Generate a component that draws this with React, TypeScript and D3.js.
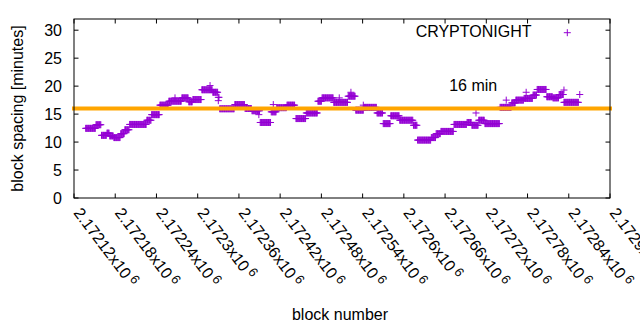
import React from "react";
import * as d3 from "d3";

// Flat runs of the moving block spacing (block range, value in minutes)
const runStart = [2172137, 2172152, 2172160, 2172168, 2172172, 2172178, 2172188, 2172194, 2172201, 2172226,
  2172233, 2172245, 2172258, 2172277, 2172287, 2172293, 2172306, 2172322, 2172330, 2172332,
  2172354, 2172369, 2172379, 2172391, 2172407, 2172415, 2172430, 2172443, 2172458, 2172475,
  2172481, 2172498, 2172519, 2172530, 2172542, 2172561, 2172570, 2172581, 2172594, 2172614,
  2172620, 2172640, 2172647, 2172654, 2172673, 2172692, 2172699, 2172709, 2172718, 2172740,
  2172757, 2172763, 2172775, 2172788, 2172794, 2172808, 2172817, 2172826, 2172833];
const runEnd = [2172152, 2172160, 2172168, 2172172, 2172178, 2172188, 2172194, 2172201, 2172226, 2172233,
  2172245, 2172258, 2172277, 2172287, 2172293, 2172306, 2172322, 2172330, 2172332, 2172354,
  2172369, 2172379, 2172391, 2172407, 2172415, 2172430, 2172442, 2172458, 2172475, 2172481,
  2172498, 2172519, 2172530, 2172542, 2172561, 2172570, 2172581, 2172594, 2172614, 2172620,
  2172640, 2172647, 2172654, 2172673, 2172692, 2172699, 2172709, 2172718, 2172740, 2172757,
  2172763, 2172775, 2172788, 2172794, 2172808, 2172817, 2172826, 2172833, 2172855];
const runValue = [12.45, 13.1, 11.2, 11.6, 11.1, 10.8, 11.5, 12.2, 13.15, 13.9,
  14.9, 16.6, 17.3, 17.9, 17.2, 17.6, 19.35, 18.9, 18.0, 15.95,
  16.7, 16.0, 15.6, 13.5, 15.4, 16.15, 16.6, 14.2, 15.2, 17.3,
  17.9, 17.1, 18.2, 15.7, 16.2, 15.2, 13.3, 14.7, 13.9, 13.0,
  10.35, 10.8, 11.5, 11.9, 13.15, 13.5, 13.0, 13.9, 13.3, 16.2,
  17.0, 17.5, 17.8, 18.4, 19.4, 18.1, 17.9, 18.5, 17.1];

// Isolated points
const spikeBlock = [2172267, 2172318, 2172330, 2172389, 2172410, 2172506, 2172523, 2172541, 2172705, 2172749, 2172778, 2172833, 2172856];
const spikeValue = [17.9, 20.1, 17.4, 14.9, 16.7, 17.9, 18.9, 16.6, 15.2, 17.5, 18.9, 19.3, 18.5];

const xTicks = [2172120, 2172180, 2172240, 2172300, 2172360, 2172420, 2172480, 2172540, 2172600, 2172660, 2172720, 2172780, 2172840, 2172900];
const yTicks = [0, 5, 10, 15, 20, 25, 30];
const targetMinutes = 16;
const seriesName = "CRYPTONIGHT";

const FONT = "'Liberation Sans', Arial, sans-serif";
const PURPLE = "#9400d3";
const ORANGE = "#ffa500";

export default function App() {
  const W = 640, H = 330;
  const left = 74, right = 610, top = 19, bottom = 198;
  const x = d3.scaleLinear().domain([2172120, 2172900]).range([left, right]);
  const y = d3.scaleLinear().domain([0, 32]).range([bottom, top]);

  const pts: [number, number][] = [];
  runStart.forEach((s, i) => {
    for (let b = s; b < runEnd[i]; b++) pts.push([b, runValue[i]]);
  });
  spikeBlock.forEach((b, i) => pts.push([b, spikeValue[i]]));

  const plus = "M-3.5,0H3.5M0,-3.5V3.5";
  const tl = 4.5;
  const fmt = (v: number) => parseFloat((v / 1e6).toFixed(5)).toString();

  return (
    <svg width={W} height={H} style={{ position: "absolute", left: 0, top: 0, background: "#fff" }} fontFamily={FONT}>
      <rect x={0} y={0} width={W} height={H} fill="#fff" />
      {/* ticks */}
      {yTicks.map((t) => (
        <g key={"y" + t}>
          <line x1={left} x2={left + tl} y1={y(t)} y2={y(t)} stroke="#000" />
          <line x1={right} x2={right - tl} y1={y(t)} y2={y(t)} stroke="#000" />
          <text x={62} y={y(t)} dy="0.35em" textAnchor="end" fontSize={16} fill="#000">{t}</text>
        </g>
      ))}
      {xTicks.map((t) => (
        <g key={"x" + t}>
          <line x1={x(t)} x2={x(t)} y1={bottom} y2={bottom - tl} stroke="#000" />
          <line x1={x(t)} x2={x(t)} y1={top} y2={top + tl} stroke="#000" />
          <g transform={`translate(${x(t) - 1},213) rotate(53)`}>
            <text x={0} y={0} fontSize={16} fill="#000">
              {fmt(t)}x10<tspan dx={3} dy={-5} fontSize={13}>6</tspan>
            </text>
          </g>
        </g>
      ))}
      {/* data */}
      <g stroke={PURPLE} strokeWidth={1} fill="none">
        {pts.map(([b, v], i) => (
          <path key={i} d={plus} transform={`translate(${x(b)},${y(v)})`} />
        ))}
      </g>
      <line x1={x(2172120)} x2={x(2172900)} y1={y(targetMinutes)} y2={y(targetMinutes)} stroke={ORANGE} strokeWidth={4} strokeLinecap="square" />
      <text x={x(2172666)} y={y(19.1)} fontSize={16} fill="#000">16 min</text>
      {/* frame */}
      <rect x={left} y={top} width={right - left} height={bottom - top} fill="none" stroke="#000" strokeWidth={1} />
      {/* legend */}
      <text x={531.5} y={37.3} textAnchor="end" fontSize={16} fill="#000">{seriesName}</text>
      <path d={plus} transform="translate(567.3,32.7)" stroke={PURPLE} strokeWidth={1} fill="none" />
      {/* axis titles */}
      <text transform={`translate(23,${(top + bottom) / 2}) rotate(-90)`} textAnchor="middle" fontSize={16} fill="#000">block spacing [minutes]</text>
      <text x={340} y={320} textAnchor="middle" fontSize={16} fill="#000">block number</text>
    </svg>
  );
}
